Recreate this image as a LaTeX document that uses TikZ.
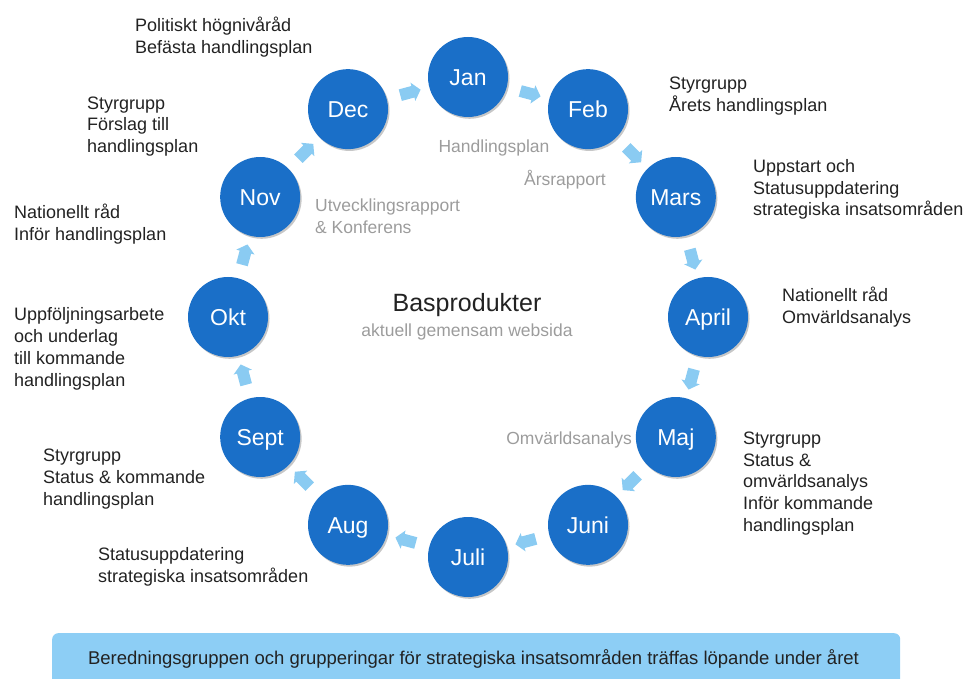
\documentclass[tikz,border=0pt]{standalone}
\usepackage{fontspec}
\setmainfont{Liberation Sans}
\usetikzlibrary{shapes.arrows,shadows,calc}
\definecolor{monthblue}{HTML}{1A6FC8}
\definecolor{arrowblue}{HTML}{8ACBF2}
\definecolor{barblue}{HTML}{8DCEF5}
\definecolor{greytext}{HTML}{9C9C9C}
\definecolor{inktext}{HTML}{222222}
\begin{document}
\begin{tikzpicture}[x=1pt,y=1pt,
  month/.style={circle, fill=monthblue, minimum size=80pt, inner sep=0pt, text=white,
    font=\fontsize{23}{26}\selectfont, text height=16.5pt, text depth=0pt,
    drop shadow={shadow xshift=1.5pt, shadow yshift=-1.8pt, opacity=0.22, fill=black}},
  blockarrow/.style={single arrow, fill=arrowblue, draw=none, minimum height=21pt,
    single arrow head extend=3.5pt, single arrow tip angle=100, inner sep=0pt},
  note/.style={anchor=west, inner sep=0pt, align=left, text=inktext,
    font=\fontsize{18}{21.8}\selectfont},
  greylabel/.style={inner sep=0pt, align=left, text=greytext,
    font=\fontsize{17.5}{21.8}\selectfont},
]
\useasboundingbox (0,0) rectangle (971,678);
\coordinate (c) at (468,361);
% month circles
\foreach \n/\t/\a in {jan/Jan/90, feb/Feb/60, mar/Mars/30, apr/April/0, maj/Maj/-30,
  jun/Juni/-60, jul/Juli/-90, aug/Aug/-120, sep/Sept/-150, okt/Okt/180, nov/Nov/150, dec/Dec/120}
  \node[month] (\n) at ($(c)+(\a:240pt)$) {\t};
% block arrows between months
\foreach \f/\g/\r in {dec/jan/15, jan/feb/-15, feb/mar/-45, mar/apr/-75, apr/maj/-105,
  maj/jun/-135, jun/jul/-165, jul/aug/165, aug/sep/135, sep/okt/105, okt/nov/75, nov/dec/45}
  \node[blockarrow, rotate=\r] (arr-\f) at ($(\f)!0.5!(\g)$) {\rule{0pt}{11.5pt}};
% centre
\node[inner sep=0pt, text=inktext, font=\fontsize{25}{28}\selectfont] (bas) at (467,373) {Basprodukter};
\node[greylabel] (web) at (467,346) {aktuell gemensam websida};
% grey labels
\node[greylabel] (hpl) at (494,530) {Handlingsplan};
\node[greylabel] (arsr) at (565,498) {Årsrapport};
\node[greylabel, anchor=west] (utv) at (315,462) {Utvecklingsrapport\\\& Konferens};
\node[greylabel, anchor=east] (omv) at (632,238) {Omvärldsanalys};
% notes
\node[note] (n-dec) at (135,640.5) {Politiskt högnivåråd\\Befästa handlingsplan};
\node[note] (n-nov) at (87,551.5) {Styrgrupp\\Förslag till\\handlingsplan};
\node[note] (n-nov2) at (14,454) {Nationellt råd\\Inför handlingsplan};
\node[note] (n-okt) at (14,329) {Uppföljningsarbete\\och underlag\\till kommande\\handlingsplan};
\node[note] (n-sep) at (43,199) {Styrgrupp\\Status \& kommande\\handlingsplan};
\node[note] (n-aug) at (98,111) {Statusuppdatering\\strategiska insatsområden};
\node[note] (n-feb) at (669,582) {Styrgrupp\\Årets handlingsplan};
\node[note] (n-mar) at (753,488.5) {Uppstart och\\Statusuppdatering\\strategiska insatsområden};
\node[note] (n-apr) at (782,370.5) {Nationellt råd\\Omvärldsanalys};
\node[note] (n-maj) at (743,194.5) {Styrgrupp\\Status \&\\omvärldsanalys\\Inför kommande\\handlingsplan};
% bottom bar
\node[fill=barblue, rounded corners=6pt, minimum width=848pt, minimum height=70pt,
  inner sep=0pt, anchor=north west] (bar) at (52,45) {};
\node[inner sep=0pt, text=inktext, font=\fontsize{18.5}{21}\selectfont] (bartext) at (473.5,19)
  {Beredningsgruppen och grupperingar för strategiska insatsområden träffas löpande under året};
\end{tikzpicture}
\end{document}
